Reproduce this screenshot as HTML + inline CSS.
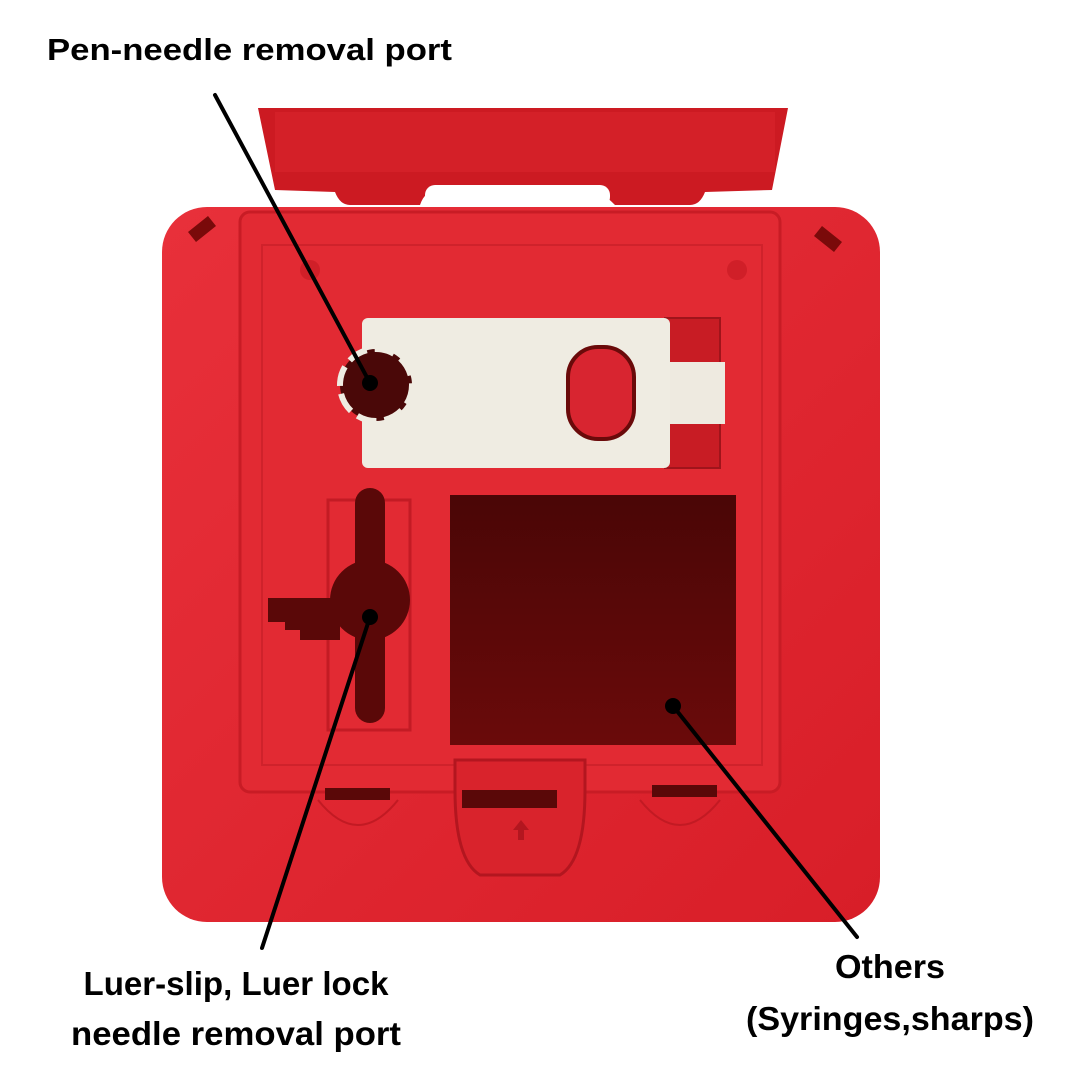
<!DOCTYPE html>
<html><head><meta charset="utf-8"><style>
html,body{margin:0;padding:0;background:#fff;}
svg{display:block}
text{font-family:"Liberation Sans",sans-serif;font-weight:bold;fill:#000}
</style></head><body>
<svg width="1080" height="1080" viewBox="0 0 1080 1080" xmlns="http://www.w3.org/2000/svg">
<defs>
<linearGradient id="bg" x1="0" y1="0" x2="1" y2="1">
<stop offset="0" stop-color="#e8303a"/><stop offset="1" stop-color="#d81e28"/></linearGradient>
<linearGradient id="dark" x1="0" y1="0" x2="0" y2="1">
<stop offset="0" stop-color="#4a0606"/><stop offset="1" stop-color="#6a0a0a"/></linearGradient>
</defs>
<!-- lid -->
<path d="M258 108 L788 108 L772 190 L705 192 Q700 205 690 205 L615 205 Q600 190 590 188 L440 188 Q425 190 420 205 L350 205 Q340 205 335 192 L275 190 Z" fill="#cc1a22"/>
<rect x="275" y="112" width="500" height="60" fill="#d42028"/>
<rect x="425" y="185" width="185" height="22" rx="10" fill="#fff"/>
<!-- body -->
<rect x="162" y="207" width="718" height="715" rx="45" fill="url(#bg)"/>
<rect x="240" y="212" width="540" height="580" rx="10" fill="#e22a33" stroke="#c81c25" stroke-width="3"/>
<rect x="262" y="245" width="500" height="520" fill="none" stroke="#cf222b" stroke-width="2"/>
<circle cx="310" cy="270" r="10" fill="#d01f28"/><circle cx="737" cy="270" r="10" fill="#d01f28"/>
<path d="M188 232 l20 -16 l8 10 l-20 16z" fill="#7a0a0a"/>
<path d="M822 226 l20 16 l-8 10 l-20 -16z" fill="#7a0a0a"/>
<!-- white slider -->
<rect x="665" y="318" width="55" height="150" fill="#c81c24" stroke="#a0141b" stroke-width="2"/>
<rect x="665" y="362" width="60" height="62" fill="#eeeae0"/>
<rect x="362" y="318" width="308" height="150" rx="6" fill="#efece2"/>
<rect x="568" y="347" width="66" height="92" rx="30" fill="#d82530" stroke="#6a0a0a" stroke-width="4"/>
<circle cx="376" cy="385" r="36" fill="#4a0808"/>
<circle cx="376" cy="385" r="36" fill="none" stroke="#efece2" stroke-width="6" stroke-dasharray="20 8"/>
<!-- luer port -->
<rect x="328" y="500" width="82" height="230" fill="none" stroke="#c31b24" stroke-width="3"/>
<rect x="355" y="488" width="30" height="235" rx="15" fill="#5a0808"/>
<circle cx="370" cy="600" r="40" fill="#5a0808"/>
<path d="M268 598 L340 598 L340 640 L300 640 L300 630 L285 630 L285 622 L268 622 Z" fill="#5a0808"/>
<!-- others -->
<rect x="450" y="495" width="286" height="250" fill="url(#dark)"/>
<!-- bottom -->
<rect x="325" y="788" width="65" height="12" fill="#5a0808"/>
<rect x="652" y="785" width="65" height="12" fill="#5a0808"/>
<path d="M318 800 Q358 850 398 800" fill="none" stroke="#c21a23" stroke-width="2"/>
<path d="M640 800 Q680 850 720 800" fill="none" stroke="#c21a23" stroke-width="2"/>
<path d="M455 760 L585 760 L585 790 Q585 860 560 875 L480 875 Q455 860 455 790 Z" fill="#d9232c" stroke="#b3161f" stroke-width="3"/>
<rect x="462" y="790" width="95" height="18" fill="#5a0808"/>
<path d="M513 830 l8 -10 l8 10 h-5 v10 h-6 v-10z" fill="#b3161f"/>
<!-- leader lines -->
<g stroke="#000" stroke-width="4" stroke-linecap="round">
<line x1="215" y1="95" x2="370" y2="383"/>
<line x1="370" y1="617" x2="262" y2="948"/>
<line x1="673" y1="706" x2="857" y2="937"/>
</g>
<circle cx="370" cy="383" r="8" fill="#000"/>
<circle cx="370" cy="617" r="8" fill="#000"/>
<circle cx="673" cy="706" r="8" fill="#000"/>
<!-- labels -->
<text x="47" y="60" font-size="31" textLength="405" lengthAdjust="spacingAndGlyphs">Pen-needle removal port</text>
<text x="236" y="995" font-size="33" text-anchor="middle" textLength="305" lengthAdjust="spacingAndGlyphs">Luer-slip, Luer lock</text>
<text x="236" y="1045" font-size="33" text-anchor="middle" textLength="330" lengthAdjust="spacingAndGlyphs">needle removal port</text>
<text x="890" y="978" font-size="33" text-anchor="middle" textLength="110" lengthAdjust="spacingAndGlyphs">Others</text>
<text x="890" y="1030" font-size="33" text-anchor="middle" textLength="288" lengthAdjust="spacingAndGlyphs">(Syringes,sharps)</text>
</svg>
</body></html>
